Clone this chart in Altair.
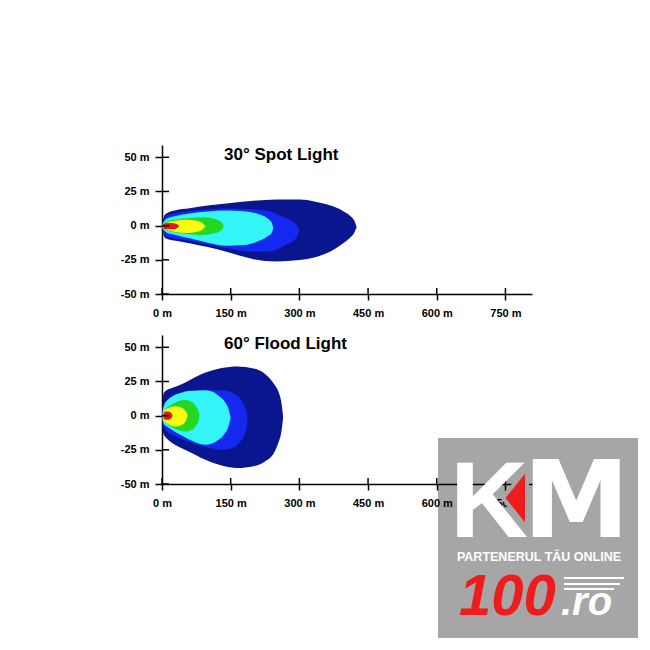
import altair as alt
import pandas as pd

# ---------------- data (metres) ----------------
X_TICKS = [0, 150, 300, 450, 600, 750]
Y_TICKS = [-50, -25, 0, 25, 50]
TITLES = ["30° Spot Light", "60° Flood Light"]
COLORS = ["#0a1690", "#1428f0", "#33f5f5", "#22d822", "#fafa14", "#dc1a1a"]

# 30° spot light iso-lux contours: x, upper edge, lower edge
SPOT_NAVY_X = [1.5, 4, 10, 30, 60, 100, 150, 200, 250, 300, 340, 370, 395, 410, 420, 425]
SPOT_NAVY_HI = [3, 6.5, 9, 11.3, 12.8, 14.7, 16.5, 18.2, 19.1, 19.2, 17.2, 14.5, 10.8, 7.5, 3.5, -1]
SPOT_NAVY_LO = [-4, -7.5, -9.5, -11, -12.8, -15.7, -20, -24.5, -26.2, -25.2, -22.5, -18.5, -13, -9, -5, -1]

SPOT_BLUE_X = [1.5, 10, 30, 60, 100, 150, 200, 240, 265, 285, 295, 300]
SPOT_BLUE_HI = [2.5, 7, 9, 10.5, 11.8, 12.5, 12, 10, 6.5, 3, 0, -3]
SPOT_BLUE_LO = [-3.5, -8, -9.5, -11, -13.5, -17, -19, -18.5, -15, -11.5, -8, -3]

SPOT_CYAN_X = [1.5, 10, 30, 60, 100, 140, 180, 210, 230, 240, 243]
SPOT_CYAN_HI = [1.5, 5, 7, 8.8, 10.3, 11, 10.6, 8.5, 5.5, 2, -2]
SPOT_CYAN_LO = [-2.5, -5, -6.8, -9.3, -12.5, -14.7, -14.2, -11.5, -8, -5, -2]

SPOT_GREEN_X = [1.5, 10, 30, 60, 90, 110, 125, 132, 135]
SPOT_GREEN_HI = [1, 3, 4.5, 5.6, 6.2, 5.5, 3.5, 1.5, -0.5]
SPOT_GREEN_LO = [-2, -3.5, -5, -6.3, -6.8, -6, -4.5, -2.5, -0.5]

SPOT_YELLOW_X = [1.5, 10, 30, 55, 75, 88, 95]
SPOT_YELLOW_HI = [0.8, 2.2, 3.6, 4.3, 3.6, 2, -0.5]
SPOT_YELLOW_LO = [-1.6, -3, -4.6, -5.4, -4.6, -3, -0.5]

SPOT_RED_X = [1.5, 4, 12, 22, 30, 35, 37]
SPOT_RED_HI = [-0.4, 1.2, 1.9, 1.9, 1.4, 0.6, -0.4]
SPOT_RED_LO = [-0.4, -2, -2.6, -2.6, -2.2, -1.4, -0.4]

# 60° flood light
FLOOD_NAVY_X = [1.5, 4, 10, 20, 35, 58, 95, 130, 165, 200, 225, 245, 255, 260, 263, 264.5]
FLOOD_NAVY_HI = [13, 16.5, 18.5, 20, 21.8, 25.6, 31.5, 34.8, 36, 34.5, 30.5, 23, 17, 11, 4, -1]
FLOOD_NAVY_LO = [-11, -14, -16.5, -19.5, -22.5, -26.2, -32.3, -36.5, -38.3, -37, -33.5, -27, -19, -13, -6, -1]

FLOOD_BLUE_X = [1.5, 10, 30, 58, 95, 131, 155, 170, 180, 185, 187]
FLOOD_BLUE_HI = [6, 11, 15, 17.5, 18.5, 18.5, 16.5, 12.5, 7, 2, -2]
FLOOD_BLUE_LO = [-7, -11, -15, -19, -23, -25, -23.5, -19.5, -14, -8, -2]

FLOOD_CYAN_X = [1.5, 5, 11, 22, 40, 58, 95, 120, 135, 145, 149, 150]
FLOOD_CYAN_HI = [4, 8, 11, 14, 16.5, 18, 18.5, 15.5, 11, 5, 0, -1.5]
FLOOD_CYAN_LO = [-4, -6.5, -8, -10.5, -14, -17.2, -21.3, -18.5, -14, -8, -3, -1.5]

FLOOD_GREEN_X = [1.5, 8, 20, 35, 51, 65, 75, 80, 82]
FLOOD_GREEN_HI = [2, 5, 8, 10.5, 11.5, 10, 6.5, 3, 0]
FLOOD_GREEN_LO = [-2, -5, -8, -10.5, -11.6, -10.5, -7, -3.5, 0]

FLOOD_YELLOW_X = [1.5, 5, 15, 30, 42, 50, 54, 56]
FLOOD_YELLOW_HI = [1.5, 3.5, 5.8, 6.8, 6, 4, 2, 0]
FLOOD_YELLOW_LO = [-1.5, -4, -6.5, -8, -7, -5, -2.5, -0.5]

FLOOD_RED_X = [2, 4, 8, 14, 19, 22, 23]
FLOOD_RED_HI = [0, 2, 3, 3, 2.2, 1, 0]
FLOOD_RED_LO = [0, -2, -3, -3, -2.2, -1, 0]

SPOT = [
    (SPOT_NAVY_X, SPOT_NAVY_HI, SPOT_NAVY_LO),
    (SPOT_BLUE_X, SPOT_BLUE_HI, SPOT_BLUE_LO),
    (SPOT_CYAN_X, SPOT_CYAN_HI, SPOT_CYAN_LO),
    (SPOT_GREEN_X, SPOT_GREEN_HI, SPOT_GREEN_LO),
    (SPOT_YELLOW_X, SPOT_YELLOW_HI, SPOT_YELLOW_LO),
    (SPOT_RED_X, SPOT_RED_HI, SPOT_RED_LO),
]
FLOOD = [
    (FLOOD_NAVY_X, FLOOD_NAVY_HI, FLOOD_NAVY_LO),
    (FLOOD_BLUE_X, FLOOD_BLUE_HI, FLOOD_BLUE_LO),
    (FLOOD_CYAN_X, FLOOD_CYAN_HI, FLOOD_CYAN_LO),
    (FLOOD_GREEN_X, FLOOD_GREEN_HI, FLOOD_GREEN_LO),
    (FLOOD_YELLOW_X, FLOOD_YELLOW_HI, FLOOD_YELLOW_LO),
    (FLOOD_RED_X, FLOOD_RED_HI, FLOOD_RED_LO),
]

WM_TEXTS = ["K", "M", "PARTENERUL TĂU ONLINE", "100", ".ro"]

# ---------------- chart ----------------
W, H = 370, 149
FONT = "Liberation Sans"
WM_GRAY = "#a6a6a6"

common_axis = dict(
    labelExpr="datum.value + ' m'", labelFont=FONT, labelFontWeight="bold",
    labelFontSize=11, labelColor="black", domainColor="black", tickColor="black",
    domainWidth=1.5, tickWidth=1.5, grid=False, title=None,
)
x_enc = alt.X(
    "x:Q",
    scale=alt.Scale(domain=[0, 808], nice=False, zero=False),
    axis=alt.Axis(values=X_TICKS, tickSize=6, labelPadding=7, labelFlush=False,
                  minExtent=30, maxExtent=30, **common_axis),
)
y_enc = alt.Y(
    "y:Q",
    scale=alt.Scale(domain=[-50, 59], nice=False, zero=False),
    axis=alt.Axis(values=Y_TICKS, tickSize=7, labelPadding=6,
                  minExtent=55, maxExtent=55, **common_axis),
    stack=None,
)


def wm_text(one, txt, x, y, size, color, font=FONT, italic=False, align="left"):
    kw = dict(align=align, baseline="alphabetic", font=font, fontSize=size,
              fontWeight="bold", color=color, text=txt)
    if italic:
        kw["fontStyle"] = "italic"
    return alt.Chart(one).mark_text(**kw).encode(x=alt.value(x), y=alt.value(y))


def panel(contours, title, title_y, watermark=False):
    layers = []
    for (xs, hi, lo), col in zip(contours, COLORS):
        df = pd.DataFrame({"x": xs, "y": hi, "y2": lo})
        layers.append(
            alt.Chart(df).mark_area(color=col, interpolate="monotone")
            .encode(x=x_enc, y=y_enc, y2="y2:Q")
        )
    layers.append(
        alt.Chart(pd.DataFrame({"y": Y_TICKS})).mark_rule(color="black", strokeWidth=1.5)
        .encode(y=y_enc, x=alt.value(0), x2=alt.value(7))
    )
    layers.append(
        alt.Chart(pd.DataFrame({"x": X_TICKS})).mark_rule(color="black", strokeWidth=1.5)
        .encode(x=x_enc, y=alt.value(H), y2=alt.value(H - 6))
    )
    layers.append(
        alt.Chart(pd.DataFrame({"t": [title]})).mark_text(
            align="left", baseline="alphabetic", font=FONT, fontSize=17,
            fontWeight="bold", color="black")
        .encode(text="t:N", x=alt.value(62), y=alt.value(title_y))
    )
    if watermark:
        one = pd.DataFrame({"a": [0]})
        layers.append(
            alt.Chart(one).mark_rect(color="black", opacity=0.35)
            .encode(x=alt.value(276), x2=alt.value(476), y=alt.value(103), y2=alt.value(303))
        )
        layers.append(wm_text(one, WM_TEXTS[0], 288, 202, 108, "white"))
        layers.append(wm_text(one, WM_TEXTS[1], 361, 202, 107, "white", font="DejaVu Sans"))
        layers.append(
            alt.Chart(one).mark_point(shape="M0,-1L0,1L-0.8,0Z", filled=True,
                                      fill="#ee1c1c", stroke=WM_GRAY, strokeWidth=4,
                                      size=3600, opacity=1)
            .encode(x=alt.value(365), y=alt.value(163))
        )
        layers.append(wm_text(one, WM_TEXTS[2], 377, 226, 12.5, "white", align="center"))
        layers.append(wm_text(one, WM_TEXTS[3], 297, 280, 58, "#ee1c1c", italic=True))
        layers.append(wm_text(one, WM_TEXTS[4], 399, 280, 40, "white", italic=True))
        for yy, x2 in ((243, 462), (249, 458), (254, 452)):
            layers.append(
                alt.Chart(one).mark_rule(color="white", strokeWidth=2)
                .encode(x=alt.value(402), x2=alt.value(x2), y=alt.value(yy))
            )
    return alt.layer(*layers).properties(width=W, height=H)


chart = (
    alt.vconcat(panel(SPOT, TITLES[0], 15), panel(FLOOD, TITLES[1], 14, watermark=True), spacing=11)
    .properties(padding={"left": 99, "top": 137, "right": 0, "bottom": 0}, background="white")
    .configure_view(stroke=None)
)

chart.save("out.html", embed_options={"renderer": "svg", "actions": False})
